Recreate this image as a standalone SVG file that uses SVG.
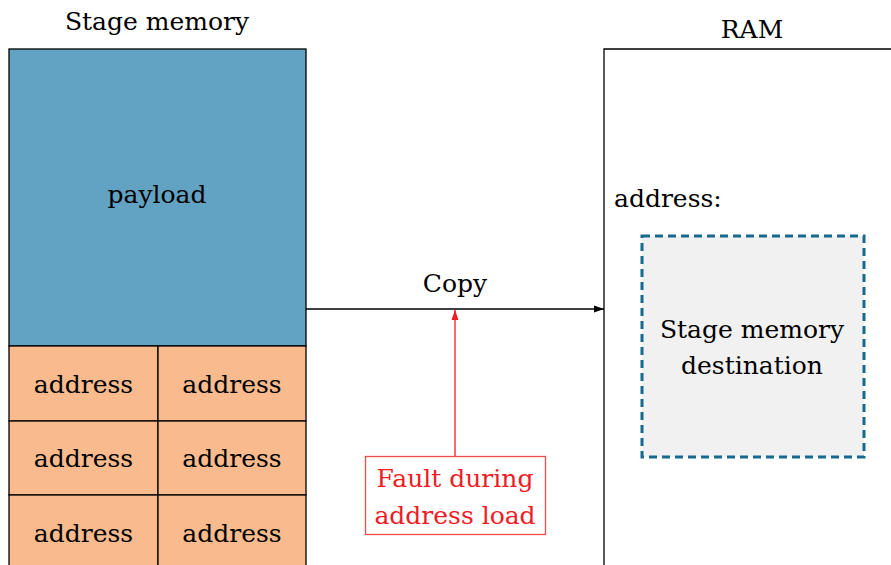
<svg xmlns="http://www.w3.org/2000/svg" width="891" height="565" viewBox="0 0 891 565">
<style>
text{font-family:"DejaVu Serif","Liberation Serif",serif;font-size:25px;fill:#000;text-anchor:middle}
.cell{fill:#f9bb8e;stroke:#000;stroke-width:1.3}
.red{fill:#ee1c25}
</style>
<defs>
<marker id="ah" viewBox="0 0 10 10" refX="10" refY="5" markerWidth="10" markerHeight="10" markerUnits="userSpaceOnUse" orient="auto"><path d="M0,1.5 L10,5 L0,8.5 Z" fill="#000"/></marker>
<marker id="ahr" viewBox="0 0 10 10" refX="10" refY="5" markerWidth="10" markerHeight="10" markerUnits="userSpaceOnUse" orient="auto"><path d="M0,1.5 L10,5 L0,8.5 Z" fill="#ee1c25"/></marker>
</defs>
<rect width="891" height="565" fill="#fff"/>
<g id="stage">
<text x="157" y="30">Stage memory</text>
<rect x="9" y="49" width="297" height="297" fill="#62a3c4" stroke="#000" stroke-width="1.3"/>
<text x="157" y="203">payload</text>
<rect class="cell" x="9" y="346" width="149" height="75"/>
<rect class="cell" x="158" y="346" width="148" height="75"/>
<rect class="cell" x="9" y="421" width="149" height="74"/>
<rect class="cell" x="158" y="421" width="148" height="74"/>
<rect class="cell" x="9" y="495" width="149" height="75"/>
<rect class="cell" x="158" y="495" width="148" height="75"/>
<text x="83.5" y="393">address</text><text x="232" y="393">address</text>
<text x="83.5" y="467">address</text><text x="232" y="467">address</text>
<text x="83.5" y="542">address</text><text x="232" y="542">address</text>
</g>
<g id="ram">
<text x="752" y="38">RAM</text>
<path d="M604,570 V49 H895" fill="none" stroke="#000" stroke-width="1.3"/>
<text x="614" y="207" style="text-anchor:start">address:</text>
</g>
<g id="dest">
<rect x="642" y="236" width="222" height="221" fill="#f1f1f1" stroke="#17698f" stroke-width="3" stroke-dasharray="8,5"/>
<text x="752" y="338">Stage memory</text>
<text x="752" y="374">destination</text>
</g>
<g id="fault">
<rect x="365.5" y="456.5" width="180" height="78" fill="#fff" stroke="#f04a4a" stroke-width="1.3"/>
<text class="red" x="455" y="487">Fault during</text>
<text class="red" x="455" y="524">address load</text>
</g>
<g id="connectors">
<line x1="306" y1="309" x2="604" y2="309" stroke="#000" stroke-width="1.3" marker-end="url(#ah)"/>
<text x="455" y="292">Copy</text>
<line x1="455" y1="456" x2="455" y2="310" stroke="#ee1c25" stroke-width="1.3" marker-end="url(#ahr)"/>
</g>
</svg>
